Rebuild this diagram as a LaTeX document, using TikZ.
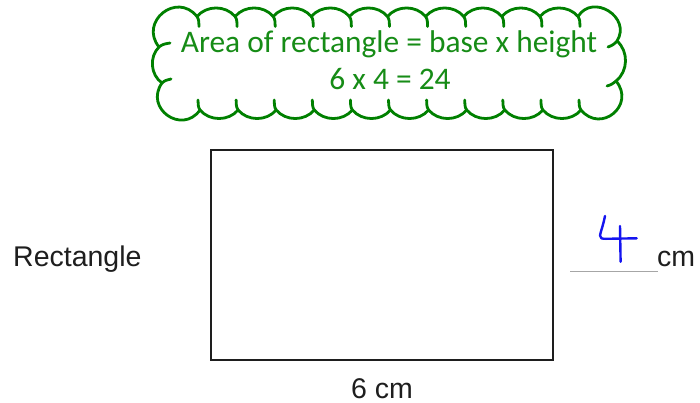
\documentclass[tikz,border=0pt]{standalone}
\usepackage{fontspec}
\setmainfont{Liberation Sans}
\newfontfamily\cloudfont{Carlito}
\definecolor{cloudgreen}{RGB}{0,128,0}
\definecolor{cloudtextgreen}{RGB}{22,140,22}
\definecolor{inkblue}{RGB}{20,20,240}
\definecolor{darkline}{RGB}{30,30,30}
\begin{document}
\begin{tikzpicture}[x=1pt,y=1pt,
  cloudline/.style={draw=cloudgreen, line width=2.8pt, line join=round, line cap=round},
  cloudtext/.style={text=cloudtextgreen, inner sep=0pt, font=\cloudfont\fontsize{31.4}{37}\selectfont},
  labeltext/.style={text=darkline, inner sep=0pt, font=\fontsize{28.5}{34}\selectfont},
  rectbox/.style={draw=darkline, line width=2pt, inner sep=0pt},
  inkline/.style={draw=inkblue, line width=2.4pt, line cap=round, line join=round},
  blankline/.style={draw=gray!70, line width=1pt}]
\useasboundingbox (0,0) rectangle (700,-403);
\fill[white] (0,0) rectangle (700,-403);

% cloud junction points
\foreach \k in {0,...,10}{
  \coordinate (T\k) at (197+38.1*\k,-16.5);
  \coordinate (B\k) at (581-38.1*\k,-110);
}
\coordinate (R1) at (617,-41);
\coordinate (R2) at (616,-81);
\coordinate (L1) at (159,-47);
\coordinate (L2) at (162,-83);

\begin{scope}[cloudline]
% top-left corner
\draw (L1) to[bend left=90, looseness=1.7] (T0) to[out=-55,in=95] +(2,-10);
% top row
\foreach \k [evaluate=\k as \n using int(\k+1)] in {0,...,9}{
  \draw (T\k) to[bend left=50] (T\n) to[out=-55,in=95] +(2,-10);
}
% top-right corner
\draw (T10) to[bend left=90, looseness=1.55] (R1) to[out=-130,in=20] +(-9,-6);
% right middle
\draw (R1) to[bend left=50] (R2) to[out=-140,in=15] +(-9,-5);
% bottom-right corner
\draw (R2) to[bend left=90, looseness=1.75] (B0) to[out=125,in=-85] +(-2,10);
% bottom row
\foreach \k [evaluate=\k as \n using int(\k+1)] in {0,...,9}{
  \draw (B\k) to[bend left=50] (B\n) to[out=125,in=-85] +(-2,10);
}
% bottom-left corner
\draw (B10) to[bend left=90, looseness=1.7] (L2) to[out=45,in=195] +(9,4);
% left middle
\draw (L2) to[bend left=50] (L1) to[out=40,in=190] +(11,4);
\end{scope}

\node[cloudtext, anchor=base] (formula) at (389,-53) {Area of rectangle = base x height};
\node[cloudtext, anchor=base] (calc) at (390,-90) {6 x 4 = 24};

% rectangle
\node[rectbox, minimum width=342.5pt, minimum height=210pt] (rect) at (381.75,-255) {};

% labels
\node[labeltext, anchor=base west] (name) at (13,-266) {Rectangle};
\node[labeltext, anchor=base] (width) at (382,-398) {6 cm};
\node[labeltext, anchor=base west] (unit) at (657,-266) {cm};

% answer blank
\coordinate (blankL) at (570,-271.5);
\coordinate (blankR) at (658,-271.5);
\draw[blankline] (blankL) -- (blankR);

% handwritten 4
\draw[inkline] (605,-216) .. controls (603,-226) and (600.5,-232) .. (600,-235.5) .. controls (599.8,-238.5) and (602,-238.8) .. (606,-238.8) -- (636.7,-238.3);
\draw[inkline] (620,-226) -- (620.6,-261.7);
\end{tikzpicture}
\end{document}
